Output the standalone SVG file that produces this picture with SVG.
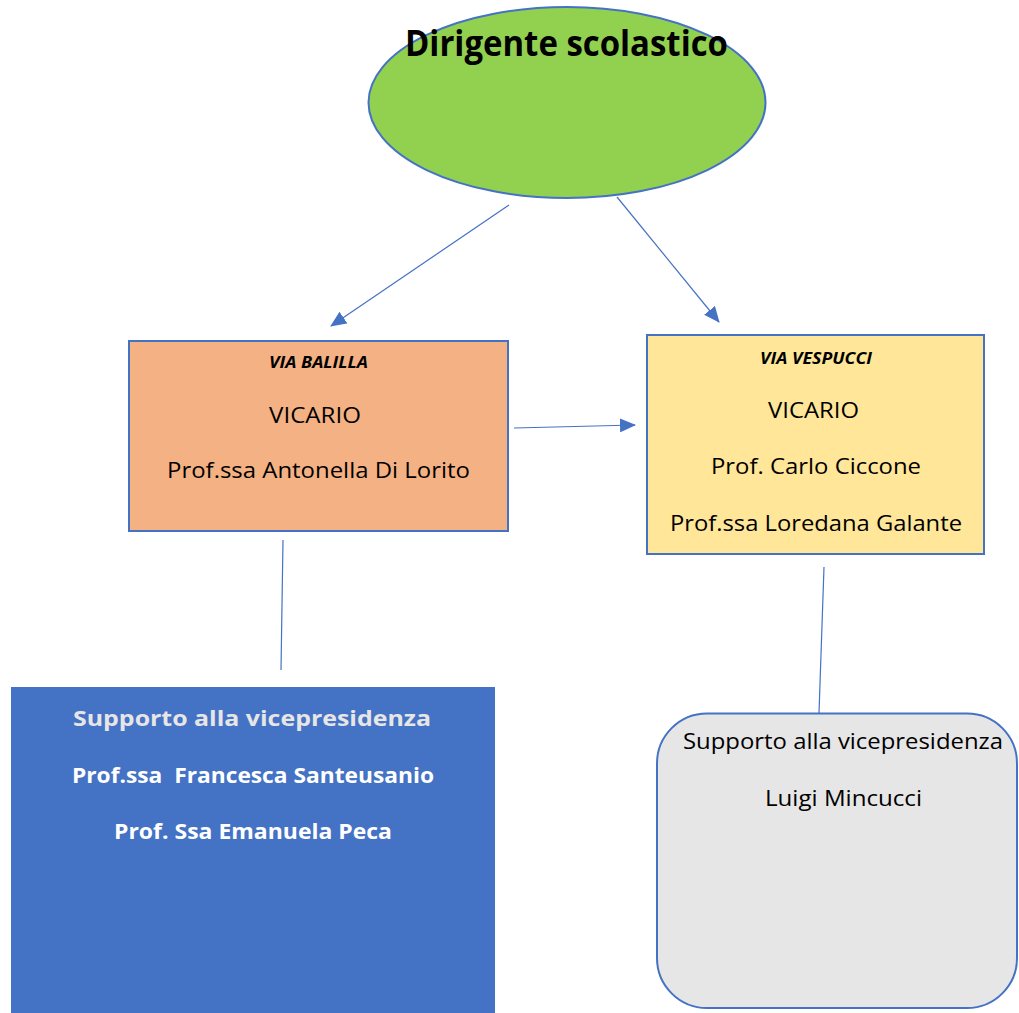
<svg xmlns="http://www.w3.org/2000/svg" width="1019" height="1013" viewBox="0 0 1019 1013">
<style>
text{font-family:"Open Sans","Liberation Sans",sans-serif;text-anchor:middle;fill:#000}
.t{font-size:22px}
.b{font-weight:bold}
.v{font-size:15.5px;font-weight:bold;font-style:italic}
.w{fill:#fff;font-weight:bold;font-size:22px}
.c{stroke:#4472C4;stroke-width:1.2;fill:none}
</style>
<defs>
<marker id="ah" markerWidth="16" markerHeight="14" refX="15" refY="7" orient="auto" markerUnits="userSpaceOnUse">
<path d="M0,0 L16,7 L0,14 Z" fill="#4472C4"/>
</marker>
</defs>
<rect width="1019" height="1013" fill="#fff"/>
<g id="connectors">
<line class="c" x1="509" y1="205" x2="331" y2="326" marker-end="url(#ah)"/>
<line class="c" x1="617" y1="197" x2="719" y2="322" marker-end="url(#ah)"/>
<line class="c" x1="514" y1="428" x2="635" y2="425" marker-end="url(#ah)"/>
<line class="c" x1="283" y1="540" x2="281" y2="670"/>
<line class="c" x1="824" y1="567" x2="819" y2="713"/>
</g>
<g id="dirigente">
<ellipse cx="567" cy="102.5" rx="198.5" ry="95.5" fill="#92D050" stroke="#4472C4" stroke-width="2"/>
<text x="566.5" y="56" font-size="35" class="b" textLength="323" lengthAdjust="spacingAndGlyphs">Dirigente scolastico</text>
</g>
<g id="via-balilla">
<rect x="129" y="341" width="379" height="190" fill="#F4B183" stroke="#4472C4" stroke-width="2"/>
<text x="318.5" y="368" class="v" textLength="99" lengthAdjust="spacingAndGlyphs">VIA BALILLA</text>
<text x="315" y="423" class="t" textLength="92" lengthAdjust="spacingAndGlyphs">VICARIO</text>
<text x="318.5" y="478" class="t" textLength="303" lengthAdjust="spacingAndGlyphs">Prof.ssa Antonella Di Lorito</text>
</g>
<g id="via-vespucci">
<rect x="647" y="335" width="337" height="219" fill="#FFE699" stroke="#4472C4" stroke-width="2"/>
<text x="816" y="364" class="v" textLength="112" lengthAdjust="spacingAndGlyphs">VIA VESPUCCI</text>
<text x="813.5" y="418" class="t" textLength="91" lengthAdjust="spacingAndGlyphs">VICARIO</text>
<text x="816" y="474" class="t" textLength="210" lengthAdjust="spacingAndGlyphs">Prof. Carlo Ciccone</text>
<text x="816" y="531" class="t" textLength="292" lengthAdjust="spacingAndGlyphs">Prof.ssa Loredana Galante</text>
</g>
<g id="supporto-balilla">
<rect x="11" y="687" width="484" height="330" fill="#4472C4"/>
<text x="252" y="726" class="w" style="fill:#E7E6E6" textLength="358" lengthAdjust="spacingAndGlyphs">Supporto alla vicepresidenza</text>
<text x="253" y="783" class="w" textLength="362" lengthAdjust="spacingAndGlyphs" xml:space="preserve">Prof.ssa  Francesca Santeusanio</text>
<text x="253" y="839" class="w" textLength="278" lengthAdjust="spacingAndGlyphs">Prof. Ssa Emanuela Peca</text>
</g>
<g id="supporto-vespucci">
<rect x="657" y="713.5" width="360" height="294.5" rx="50" ry="50" fill="#E7E6E6" stroke="#4472C4" stroke-width="2"/>
<text x="843" y="749" class="t" textLength="320" lengthAdjust="spacingAndGlyphs">Supporto alla vicepresidenza</text>
<text x="843.5" y="806" class="t" textLength="157" lengthAdjust="spacingAndGlyphs">Luigi Mincucci</text>
</g>
</svg>
